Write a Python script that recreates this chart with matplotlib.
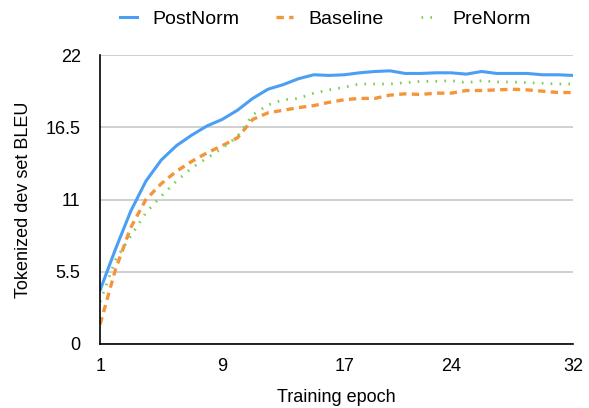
import matplotlib.pyplot as plt

epochs = list(range(1, 33))
postnorm = [4.1, 7.2, 10.1, 12.4, 14.0, 15.1, 15.9, 16.6, 17.1, 17.8, 18.7, 19.4,
            19.75, 20.2, 20.5, 20.45, 20.5, 20.65, 20.75, 20.8, 20.6, 20.6, 20.65, 20.65,
            20.55, 20.75, 20.6, 20.6, 20.6, 20.5, 20.5, 20.45]
baseline = [1.5, 5.65, 8.85, 11.0, 12.2, 13.15, 13.9, 14.55, 15.1, 15.7, 17.1, 17.6,
            17.8, 18.0, 18.15, 18.4, 18.6, 18.7, 18.7, 18.95, 19.05, 19.0, 19.1, 19.1,
            19.3, 19.3, 19.35, 19.4, 19.35, 19.25, 19.15, 19.15]
prenorm = [3.2, 6.4, 8.2, 10.0, 11.25, 12.4, 13.4, 14.15, 14.9, 15.8, 17.45, 18.2,
           18.6, 18.7, 19.1, 19.35, 19.55, 19.8, 19.8, 19.8, 19.9, 20.0, 20.0, 20.05,
           19.9, 20.05, 19.95, 19.95, 19.9, 19.85, 19.8, 19.8]
xticks = [1, 9, 17, 24, 32]
yticks = [0, 5.5, 11, 16.5, 22]

plt.rcParams['font.family'] = ['Liberation Sans', 'DejaVu Sans']

fig, ax = plt.subplots(figsize=(5.89, 4.08), dpi=100)
fig.subplots_adjust(left=0.17, right=0.973, top=0.865, bottom=0.157)

ax.plot(epochs, postnorm, color='#4a9ff5', linewidth=2.2, linestyle='-', label='PostNorm')
ax.plot(epochs, baseline, color='#f4953a', linewidth=2.4, linestyle=(0, (2.2, 1.6)), label='Baseline')
ax.plot(epochs, prenorm, color='#7acf58', linewidth=2.0, linestyle=(0, (0.6, 2.6)), label='PreNorm')

ax.set_xlim(1, 32)
ax.set_ylim(0, 22)
ax.set_xticks(xticks)
ax.set_yticks(yticks)
ax.set_yticklabels(['0', '5.5', '11', '16.5', '22'])
ax.tick_params(axis='y', length=0, labelsize=13, pad=14)
ax.tick_params(axis='x', length=0, labelsize=13, pad=10)
ax.yaxis.grid(True, color='#c8c8c8', linewidth=1.2)
ax.set_axisbelow(True)
for s in ['top', 'right']:
    ax.spines[s].set_visible(False)
ax.spines['left'].set_linewidth(1.2)
ax.spines['bottom'].set_linewidth(1.2)

ax.set_xlabel('Training epoch', fontsize=13, labelpad=10)
ax.set_ylabel('Tokenized dev set BLEU', fontsize=13, labelpad=10)

ax.legend(loc='center', bbox_to_anchor=(0.477, 1.125), ncol=3, frameon=False,
          fontsize=14, handlelength=0.85, handletextpad=0.8, columnspacing=1.9)

plt.savefig('out.png')
